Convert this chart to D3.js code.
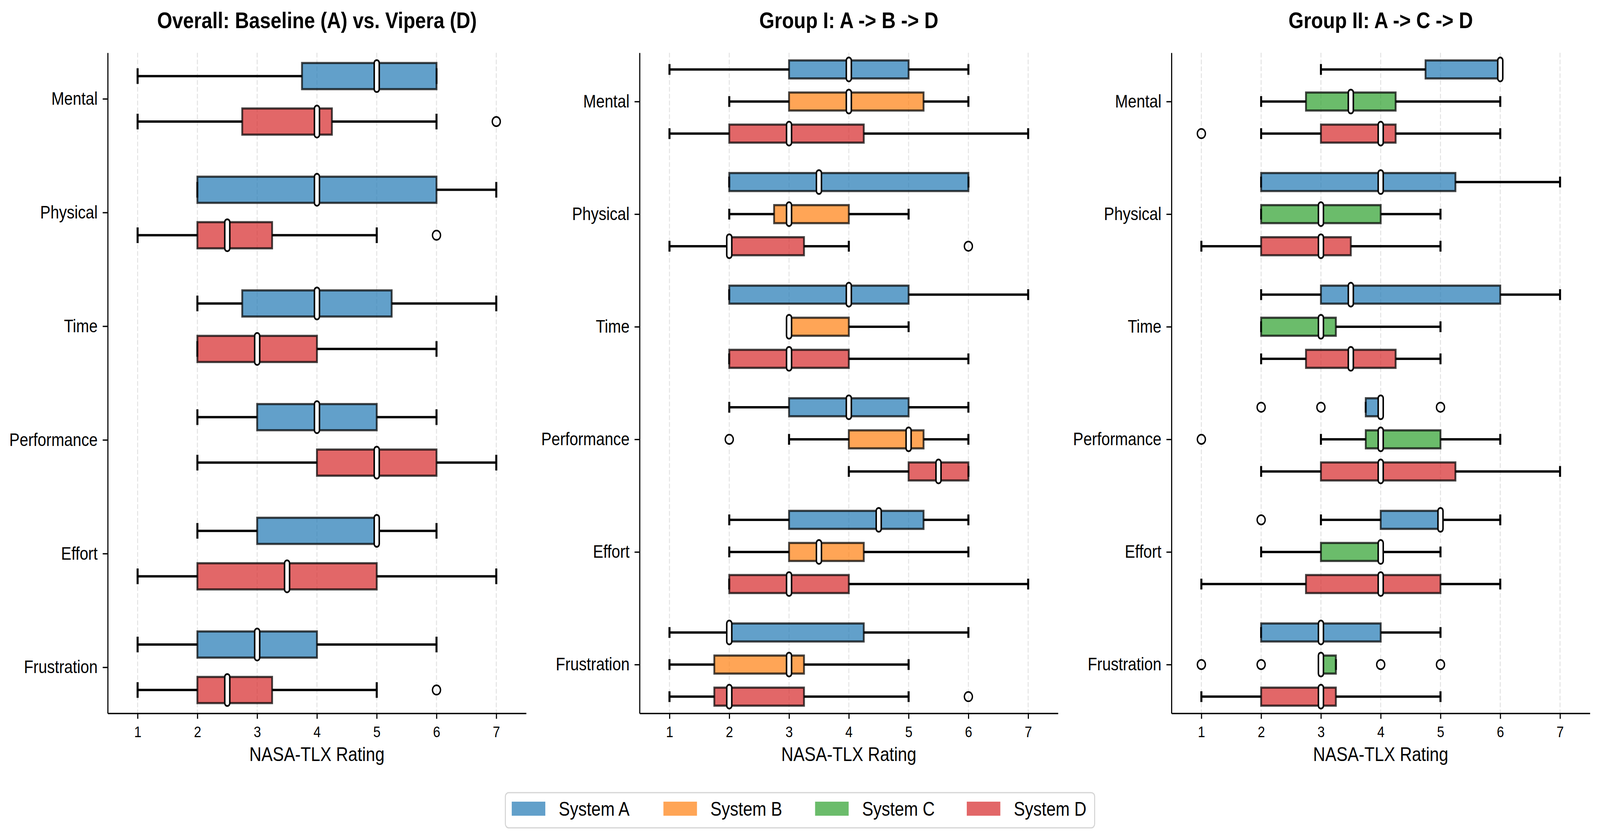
<!DOCTYPE html>
<html>
<head>
<meta charset="utf-8">
<script src="https://cdn.jsdelivr.net/npm/d3@7"></script>
<style>
  html, body { margin: 0; padding: 0; background: #fff; overflow: hidden; }
  svg { display: block; width: 100vw; height: 100vh; font-family: "Liberation Sans", Arial, sans-serif; }
</style>
</head>
<body>
<svg id="chart" viewBox="0 0 4768 2144" preserveAspectRatio="none"></svg>
<script>
const categories = ["Mental", "Physical", "Time", "Performance", "Effort", "Frustration"];
const systems = ["System A", "System B", "System C", "System D"];
const systemColors = ["#1f77b4", "#ff7f0e", "#2ca02c", "#d62728"];
const xTicks = [1, 2, 3, 4, 5, 6, 7];
const titles = ["Overall: Baseline (A) vs. Vipera (D)", "Group I: A -> B -> D", "Group II: A -> C -> D"];

// per category: [whisker low, q1, median, q3, whisker high]
const overallA = [[1, 3.75, 5, 6, 6], [2, 2, 4, 6, 7], [2, 2.75, 4, 5.25, 7], [2, 3, 4, 5, 6], [2, 3, 5, 5, 6], [1, 2, 3, 4, 6]];
const overallD = [[1, 2.75, 4, 4.25, 6], [1, 2, 2.5, 3.25, 5], [2, 2, 3, 4, 6], [2, 4, 5, 6, 7], [1, 2, 3.5, 5, 7], [1, 2, 2.5, 3.25, 5]];
const overallOutA = [[], [], [], [], [], []];
const overallOutD = [[7], [6], [], [], [], [6]];

const group1A = [[1, 3, 4, 5, 6], [2, 2, 3.5, 6, 6], [2, 2, 4, 5, 7], [2, 3, 4, 5, 6], [2, 3, 4.5, 5.25, 6], [1, 2, 2, 4.25, 6]];
const group1B = [[2, 3, 4, 5.25, 6], [2, 2.75, 3, 4, 5], [3, 3, 3, 4, 5], [3, 4, 5, 5.25, 6], [2, 3, 3.5, 4.25, 6], [1, 1.75, 3, 3.25, 5]];
const group1D = [[1, 2, 3, 4.25, 7], [1, 2, 2, 3.25, 4], [2, 2, 3, 4, 6], [4, 5, 5.5, 6, 6], [2, 2, 3, 4, 7], [1, 1.75, 2, 3.25, 5]];
const group1OutA = [[], [], [], [], [], []];
const group1OutB = [[], [], [], [2], [], []];
const group1OutD = [[], [6], [], [], [], [6]];

const group2A = [[3, 4.75, 6, 6, 6], [2, 2, 4, 5.25, 7], [2, 3, 3.5, 6, 7], [3.75, 3.75, 4, 4, 4], [3, 4, 5, 5, 6], [2, 2, 3, 4, 5]];
const group2C = [[2, 2.75, 3.5, 4.25, 6], [2, 2, 3, 4, 5], [2, 2, 3, 3.25, 5], [3, 3.75, 4, 5, 6], [2, 3, 4, 4, 5], [3, 3, 3, 3.25, 3.25]];
const group2D = [[2, 3, 4, 4.25, 6], [1, 2, 3, 3.5, 5], [2, 2.75, 3.5, 4.25, 5], [2, 3, 4, 5.25, 7], [1, 2.75, 4, 5, 6], [1, 2, 3, 3.25, 5]];
const group2OutA = [[], [], [], [2, 3, 5], [2], []];
const group2OutC = [[], [], [], [1], [], [1, 2, 4, 5]];
const group2OutD = [[1], [], [], [], [], []];

const panels = [
  { title: titles[0], left: 321, yDomain: [-0.405, 5.405], boxW: 0.23, offsets: [-0.2, 0.2],
    series: [{ sys: 0, stats: overallA, out: overallOutA }, { sys: 3, stats: overallD, out: overallOutD }] },
  { title: titles[1], left: 1906, yDomain: [-0.433, 5.433], boxW: 0.16, offsets: [-0.285, 0, 0.285],
    series: [{ sys: 0, stats: group1A, out: group1OutA }, { sys: 1, stats: group1B, out: group1OutB }, { sys: 3, stats: group1D, out: group1OutD }] },
  { title: titles[2], left: 3491, yDomain: [-0.433, 5.433], boxW: 0.16, offsets: [-0.285, 0, 0.285],
    series: [{ sys: 0, stats: group2A, out: group2OutA }, { sys: 2, stats: group2C, out: group2OutC }, { sys: 3, stats: group2D, out: group2OutD }] }
];

const svg = d3.select('#chart');
const plotTop = 135, plotBottom = 1825, pw = 1247;

panels.forEach(p => {
  const g = svg.append('g').attr('transform', `translate(${p.left}, 0)`);
  const x = d3.scaleLinear().domain([0.5, 7.5]).range([0, pw]);
  const y = d3.scaleLinear().domain(p.yDomain).range([plotTop, plotBottom]);

  // dashed grid
  g.append('g').selectAll('line').data(xTicks).enter().append('line')
    .attr('x1', d => x(d)).attr('x2', d => x(d))
    .attr('y1', plotTop).attr('y2', plotBottom)
    .attr('stroke', '#e4e4e4').attr('stroke-width', 3)
    .attr('stroke-dasharray', '12,5.5');

  const bh = y(p.boxW) - y(0);
  const capH = bh * 0.6;

  p.series.forEach((s, si) => {
    const color = systemColors[s.sys];
    s.stats.forEach((st, ci) => {
      const cy = y(ci + p.offsets[si]);
      const [lo, q1, med, q3, hi] = st;
      const sg = g.append('g');
      // whiskers
      sg.append('line').attr('x1', x(lo)).attr('x2', x(q1)).attr('y1', cy).attr('y2', cy)
        .attr('stroke', '#000').attr('stroke-width', 6);
      sg.append('line').attr('x1', x(q3)).attr('x2', x(hi)).attr('y1', cy).attr('y2', cy)
        .attr('stroke', '#000').attr('stroke-width', 6);
      [lo, hi].forEach(v => {
        sg.append('line').attr('x1', x(v)).attr('x2', x(v))
          .attr('y1', cy - capH / 2).attr('y2', cy + capH / 2)
          .attr('stroke', '#000').attr('stroke-width', 6);
      });
      // box
      sg.append('rect')
        .attr('x', x(q1)).attr('y', cy - bh / 2)
        .attr('width', Math.max(x(q3) - x(q1), 0.5)).attr('height', bh)
        .attr('fill', color).attr('fill-opacity', 0.7)
        .attr('stroke', '#000').attr('stroke-opacity', 0.72).attr('stroke-width', 5.5);
      // median
      sg.append('rect')
        .attr('x', x(med) - 7.5).attr('y', cy - bh / 2 - 7.5)
        .attr('width', 15).attr('height', bh + 15)
        .attr('rx', 7.5)
        .attr('fill', '#fff').attr('stroke', '#000').attr('stroke-width', 4.5);
      // fliers
      s.out[ci].forEach(v => {
        sg.append('circle').attr('cx', x(v)).attr('cy', cy).attr('r', 12)
          .attr('fill', 'none').attr('stroke', '#000').attr('stroke-width', 4);
      });
    });
  });

  // axes
  const yAxis = g.append('g')
    .call(d3.axisLeft(y).tickValues(d3.range(categories.length))
      .tickFormat(i => categories[i]).tickSize(15).tickSizeOuter(0).tickPadding(15));
  yAxis.selectAll('text').attr('font-size', 46).attr('fill', '#000')
    .attr('font-family', '"Liberation Sans", Arial, sans-serif');

  const xAxis = g.append('g').attr('transform', `translate(0, ${plotBottom})`)
    .call(d3.axisBottom(x).tickValues(xTicks).tickFormat(d3.format('d'))
      .tickSize(14).tickSizeOuter(0).tickPadding(19));
  xAxis.selectAll('text').attr('font-size', 39).attr('fill', '#000')
    .attr('font-family', '"Liberation Sans", Arial, sans-serif');

  [yAxis, xAxis].forEach(a => {
    a.select('.domain').attr('stroke', '#000').attr('stroke-width', 3.3);
    a.selectAll('.tick line').attr('stroke', '#000').attr('stroke-width', 3.3);
  });

  g.append('text')
    .attr('x', pw / 2).attr('y', 1947)
    .attr('text-anchor', 'middle').attr('font-size', 50)
    .text('NASA-TLX Rating');

  g.append('text')
    .attr('x', pw / 2).attr('y', 72)
    .attr('text-anchor', 'middle').attr('font-size', 58).attr('font-weight', 'bold')
    .text(p.title);
});

// legend
const legend = svg.append('g');
legend.append('rect')
  .attr('x', 1506).attr('y', 2028).attr('width', 1756).attr('height', 90)
  .attr('rx', 10).attr('fill', '#fff').attr('stroke', '#d4d4d4').attr('stroke-width', 3);

systems.forEach((name, i) => {
  const lx = 1525 + i * 452;
  legend.append('rect')
    .attr('x', lx).attr('y', 2051).attr('width', 100).attr('height', 36)
    .attr('fill', systemColors[i]).attr('fill-opacity', 0.7);
  legend.append('text')
    .attr('x', lx + 140).attr('y', 2087)
    .attr('font-size', 50)
    .text(name);
});
</script>
</body>
</html>
